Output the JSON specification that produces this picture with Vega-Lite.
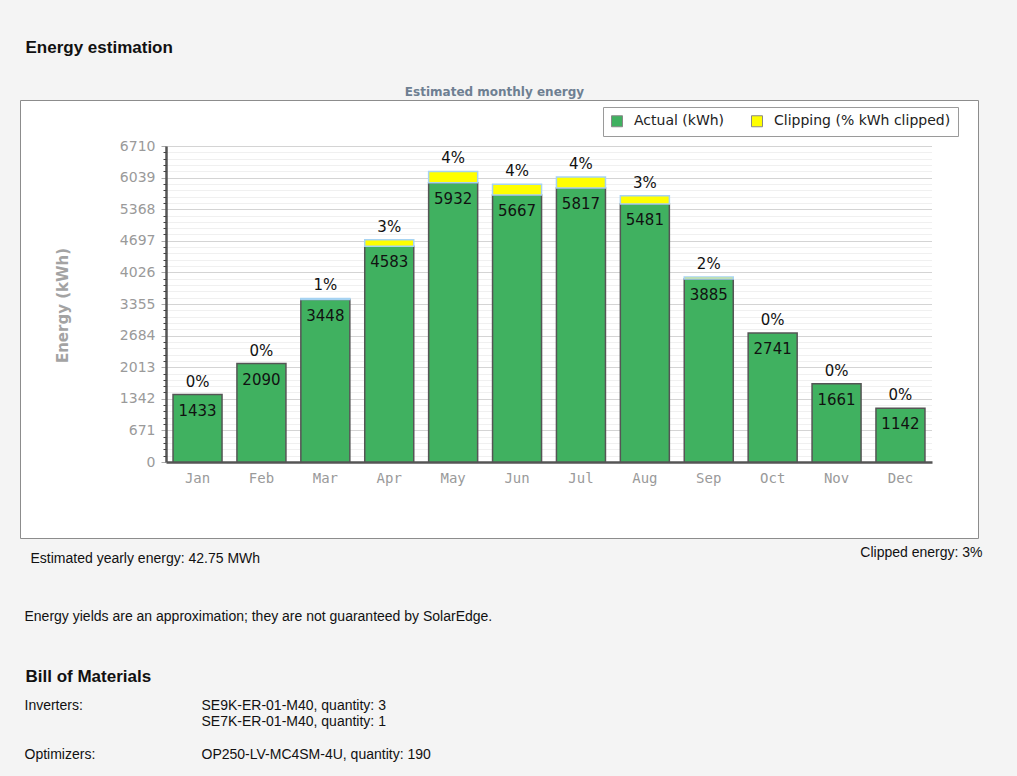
{
  "$schema": "https://vega.github.io/schema/vega-lite/v6.json",
  "autosize": {"type": "none"},
  "padding": {"left": 20, "top": 100, "right": 39, "bottom": 238},
  "width": 958,
  "height": 438,
  "background": "#f4f4f4",
  "config": {
    "view": {"fill": "#ffffff", "stroke": "#8c8c8c", "strokeWidth": 1},
    "axis": {"labelOverlap": false, "labelFlush": false}
  },
  "data": {
    "values": [
      {"month": "Jan", "series": "Actual (kWh)", "kWh": 1433, "pct": "0%"},
      {"month": "Jan", "series": "Clipping (% kWh clipped)", "kWh": 0, "pct": "0%"},
      {"month": "Feb", "series": "Actual (kWh)", "kWh": 2090, "pct": "0%"},
      {"month": "Feb", "series": "Clipping (% kWh clipped)", "kWh": 0, "pct": "0%"},
      {"month": "Mar", "series": "Actual (kWh)", "kWh": 3448, "pct": "1%"},
      {"month": "Mar", "series": "Clipping (% kWh clipped)", "kWh": 25, "pct": "1%"},
      {"month": "Apr", "series": "Actual (kWh)", "kWh": 4583, "pct": "3%"},
      {"month": "Apr", "series": "Clipping (% kWh clipped)", "kWh": 138, "pct": "3%"},
      {"month": "May", "series": "Actual (kWh)", "kWh": 5932, "pct": "4%"},
      {"month": "May", "series": "Clipping (% kWh clipped)", "kWh": 237, "pct": "4%"},
      {"month": "Jun", "series": "Actual (kWh)", "kWh": 5667, "pct": "4%"},
      {"month": "Jun", "series": "Clipping (% kWh clipped)", "kWh": 230, "pct": "4%"},
      {"month": "Jul", "series": "Actual (kWh)", "kWh": 5817, "pct": "4%"},
      {"month": "Jul", "series": "Clipping (% kWh clipped)", "kWh": 235, "pct": "4%"},
      {"month": "Aug", "series": "Actual (kWh)", "kWh": 5481, "pct": "3%"},
      {"month": "Aug", "series": "Clipping (% kWh clipped)", "kWh": 170, "pct": "3%"},
      {"month": "Sep", "series": "Actual (kWh)", "kWh": 3885, "pct": "2%"},
      {"month": "Sep", "series": "Clipping (% kWh clipped)", "kWh": 45, "pct": "2%"},
      {"month": "Oct", "series": "Actual (kWh)", "kWh": 2741, "pct": "0%"},
      {"month": "Oct", "series": "Clipping (% kWh clipped)", "kWh": 0, "pct": "0%"},
      {"month": "Nov", "series": "Actual (kWh)", "kWh": 1661, "pct": "0%"},
      {"month": "Nov", "series": "Clipping (% kWh clipped)", "kWh": 0, "pct": "0%"},
      {"month": "Dec", "series": "Actual (kWh)", "kWh": 1142, "pct": "0%"},
      {"month": "Dec", "series": "Clipping (% kWh clipped)", "kWh": 0, "pct": "0%"}
    ]
  },
  "resolve": {"axis": {"x": "independent", "y": "independent"}},
  "layer": [
    {
      "transform": [{"filter": "datum.series === 'Actual (kWh)'"}],
      "mark": {"type": "bar", "stroke": "#555555", "strokeWidth": 1.5},
      "encoding": {
        "x": {
          "field": "month", "type": "nominal",
          "scale": {"domain": ["Jan","Feb","Mar","Apr","May","Jun","Jul","Aug","Sep","Oct","Nov","Dec"], "range": [146, 912], "paddingInner": 0.233, "paddingOuter": 0.11},
          "axis": {
            "orient": "bottom", "offset": -76, "domain": true, "domainColor": "#555555", "domainWidth": 2.5,
            "ticks": false, "grid": false, "labelAngle": 0, "labelFont": "DejaVu Sans Mono", "labelFontSize": 14, "labelColor": "#9a9a9a", "labelPadding": 9,
            "title": "Estimated yearly energy: 42.75 MWh", "titleFont": "Liberation Sans", "titleFontSize": 14, "titleFontWeight": "normal", "titleColor": "#111111",
            "titleX": 10, "titleY": 100, "titleAlign": "left", "titleBaseline": "alphabetic", "titleAngle": 0
          }
        },
        "y": {
          "field": "kWh", "type": "quantitative",
          "scale": {"domain": [0, 6710], "range": [362, 46], "nice": false, "zero": true},
          "axis": {
            "orient": "left", "offset": -146, "values": [0, 671, 1342, 2013, 2684, 3355, 4026, 4697, 5368, 6039, 6710], "format": "d",
            "domain": true, "domainColor": "#555555", "domainWidth": 2.5,
            "ticks": true, "tickColor": "#aaaaaa", "tickSize": 5, "tickWidth": 1,
            "labelFont": "DejaVu Sans", "labelFontSize": 14, "labelColor": "#9a9a9a", "labelPadding": 6,
            "grid": true, "gridColor": "#a8a8a8", "gridDash": [1, 1], "gridWidth": 1,
            "title": "Energy (kWh)", "titleFont": "DejaVu Sans", "titleFontSize": 15, "titleFontWeight": "bold", "titleColor": "#a3a3a3",
            "titleX": -104, "titleY": 205, "titleAngle": 270, "titleAlign": "center", "titleBaseline": "middle"
          }
        },
        "color": {
          "field": "series", "type": "nominal",
          "scale": {"domain": ["Actual (kWh)", "Clipping (% kWh clipped)"], "range": ["#40b160", "#ffff00"]},
          "legend": {
            "title": null, "orient": "none", "legendX": 583, "legendY": 7, "direction": "horizontal",
            "fillColor": "#ffffff", "strokeColor": "#9a9a9a", "padding": 7,
            "symbolType": "square", "symbolSize": 121, "symbolStrokeColor": "#888888", "symbolStrokeWidth": 1, "symbolOpacity": 1,
            "labelFont": "DejaVu Sans", "labelFontSize": 14, "labelColor": "#222222", "labelOffset": 10, "columnPadding": 24, "labelLimit": 400
          }
        }
      }
    },
    {
      "transform": [
        {"stack": "kWh", "groupby": ["month"], "sort": [{"field": "series", "order": "ascending"}], "as": ["y0", "y1"]},
        {"filter": "datum.series === 'Clipping (% kWh clipped)' && datum.kWh > 0"}
      ],
      "mark": {"type": "bar", "fill": "#ffff00", "stroke": "#a6d3f2", "strokeWidth": 1.5},
      "encoding": {
        "x": {
          "field": "month", "type": "nominal",
          "axis": {
            "orient": "top", "offset": 0, "labels": false, "ticks": false, "domain": false, "grid": false,
            "title": "Estimated monthly energy", "titleFont": "DejaVu Sans", "titleFontSize": 12, "titleFontWeight": "bold", "titleColor": "#6e7f92",
            "titleX": 474, "titleY": -5, "titleAlign": "center", "titleBaseline": "alphabetic", "titleAngle": 0
          }
        },
        "y": {
          "field": "y1", "type": "quantitative",
          "axis": {
            "orient": "left", "offset": -146,
            "values": [134.2, 268.4, 402.6, 536.8, 805.2, 939.4, 1073.6, 1207.8, 1476.2, 1610.4, 1744.6, 1878.8, 2147.2, 2281.4, 2415.6, 2549.8, 2818.2, 2952.4, 3086.6, 3220.8, 3489.2, 3623.4, 3757.6, 3891.8, 4160.2, 4294.4, 4428.6, 4562.8, 4831.2, 4965.4, 5099.6, 5233.8, 5502.2, 5636.4, 5770.6, 5904.8, 6173.2, 6307.4, 6441.6, 6575.8],
            "labels": false, "domain": false, "ticks": true, "tickSize": 3, "tickColor": "#444444", "tickWidth": 1,
            "grid": true, "gridColor": "#e0e0e0", "gridDash": [1, 1], "gridWidth": 1,
            "title": ["Energy estimation", "Bill of Materials"],
            "titleFont": "Liberation Sans", "titleFontSize": 17, "titleFontWeight": "bold", "titleColor": "#111111", "titleLineHeight": 629,
            "titleX": -141, "titleY": -48, "titleAlign": "left", "titleBaseline": "alphabetic", "titleAngle": 0
          }
        },
        "y2": {"field": "y0"}
      }
    },
    {
      "transform": [
        {"stack": "kWh", "groupby": ["month"], "sort": [{"field": "series", "order": "ascending"}], "as": ["y0", "y1"]},
        {"filter": "datum.series === 'Clipping (% kWh clipped)' && datum.kWh > 0"}
      ],
      "mark": {"type": "text", "font": "DejaVu Sans", "fontSize": 15, "color": "#111111", "baseline": "middle", "dy": -13},
      "encoding": {
        "x": {
          "field": "month", "type": "nominal",
          "axis": {
            "orient": "bottom", "offset": 0, "labels": false, "ticks": false, "domain": false, "grid": false,
            "title": "Energy yields are an approximation; they are not guaranteed by SolarEdge.", "titleFont": "Liberation Sans", "titleFontSize": 14, "titleFontWeight": "normal", "titleColor": "#111111",
            "titleX": 4, "titleY": 82, "titleAlign": "left", "titleBaseline": "alphabetic", "titleAngle": 0
          }
        },
        "y": {
          "field": "y1", "type": "quantitative",
          "axis": {
            "orient": "right", "offset": 0, "labels": false, "ticks": false, "domain": false, "grid": false,
            "title": "Clipped energy: 3%", "titleFont": "Liberation Sans", "titleFontSize": 14, "titleFontWeight": "normal", "titleColor": "#111111",
            "titleX": 4, "titleY": 456, "titleAlign": "right", "titleBaseline": "alphabetic", "titleAngle": 0
          }
        },
        "text": {"field": "pct", "type": "nominal"}
      }
    },
    {
      "transform": [
        {"stack": "kWh", "groupby": ["month"], "sort": [{"field": "series", "order": "ascending"}], "as": ["y0", "y1"]},
        {"filter": "datum.series === 'Clipping (% kWh clipped)' && datum.kWh === 0"}
      ],
      "mark": {"type": "text", "font": "DejaVu Sans", "fontSize": 15, "color": "#111111", "baseline": "middle", "dy": -13},
      "encoding": {
        "x": {
          "field": "month", "type": "nominal",
          "axis": {
            "orient": "bottom", "offset": 0, "labels": false, "ticks": false, "domain": false, "grid": false,
            "title": "OP250-LV-MC4SM-4U, quantity: 190", "titleFont": "Liberation Sans", "titleFontSize": 14, "titleFontWeight": "normal", "titleColor": "#111111",
            "titleX": 181, "titleY": 220.5, "titleAlign": "left", "titleBaseline": "alphabetic", "titleAngle": 0
          }
        },
        "y": {"field": "y1", "type": "quantitative", "axis": null},
        "text": {"field": "pct", "type": "nominal"}
      }
    },
    {
      "transform": [{"filter": "datum.series === 'Actual (kWh)'"}],
      "mark": {"type": "text", "font": "DejaVu Sans", "fontSize": 15, "color": "#111111", "baseline": "middle", "dy": 16},
      "encoding": {
        "x": {
          "field": "month", "type": "nominal",
          "axis": {
            "orient": "bottom", "offset": 0, "labels": false, "ticks": false, "domain": false, "grid": false,
            "title": ["Inverters:", "Optimizers:"], "titleFont": "Liberation Sans", "titleFontSize": 14, "titleFontWeight": "normal", "titleColor": "#111111", "titleLineHeight": 49.5,
            "titleX": 4, "titleY": 171, "titleAlign": "left", "titleBaseline": "alphabetic", "titleAngle": 0
          }
        },
        "y": {
          "field": "kWh", "type": "quantitative",
          "axis": {
            "orient": "right", "offset": 0, "labels": false, "ticks": false, "domain": false, "grid": false,
            "title": ["SE9K-ER-01-M40, quantity: 3", "SE7K-ER-01-M40, quantity: 1"], "titleFont": "Liberation Sans", "titleFontSize": 14, "titleFontWeight": "normal", "titleColor": "#111111", "titleLineHeight": 16.5,
            "titleX": -777, "titleY": 609, "titleAlign": "left", "titleBaseline": "alphabetic", "titleAngle": 0
          }
        },
        "text": {"field": "kWh", "type": "quantitative", "format": "d"}
      }
    }
  ]
}
